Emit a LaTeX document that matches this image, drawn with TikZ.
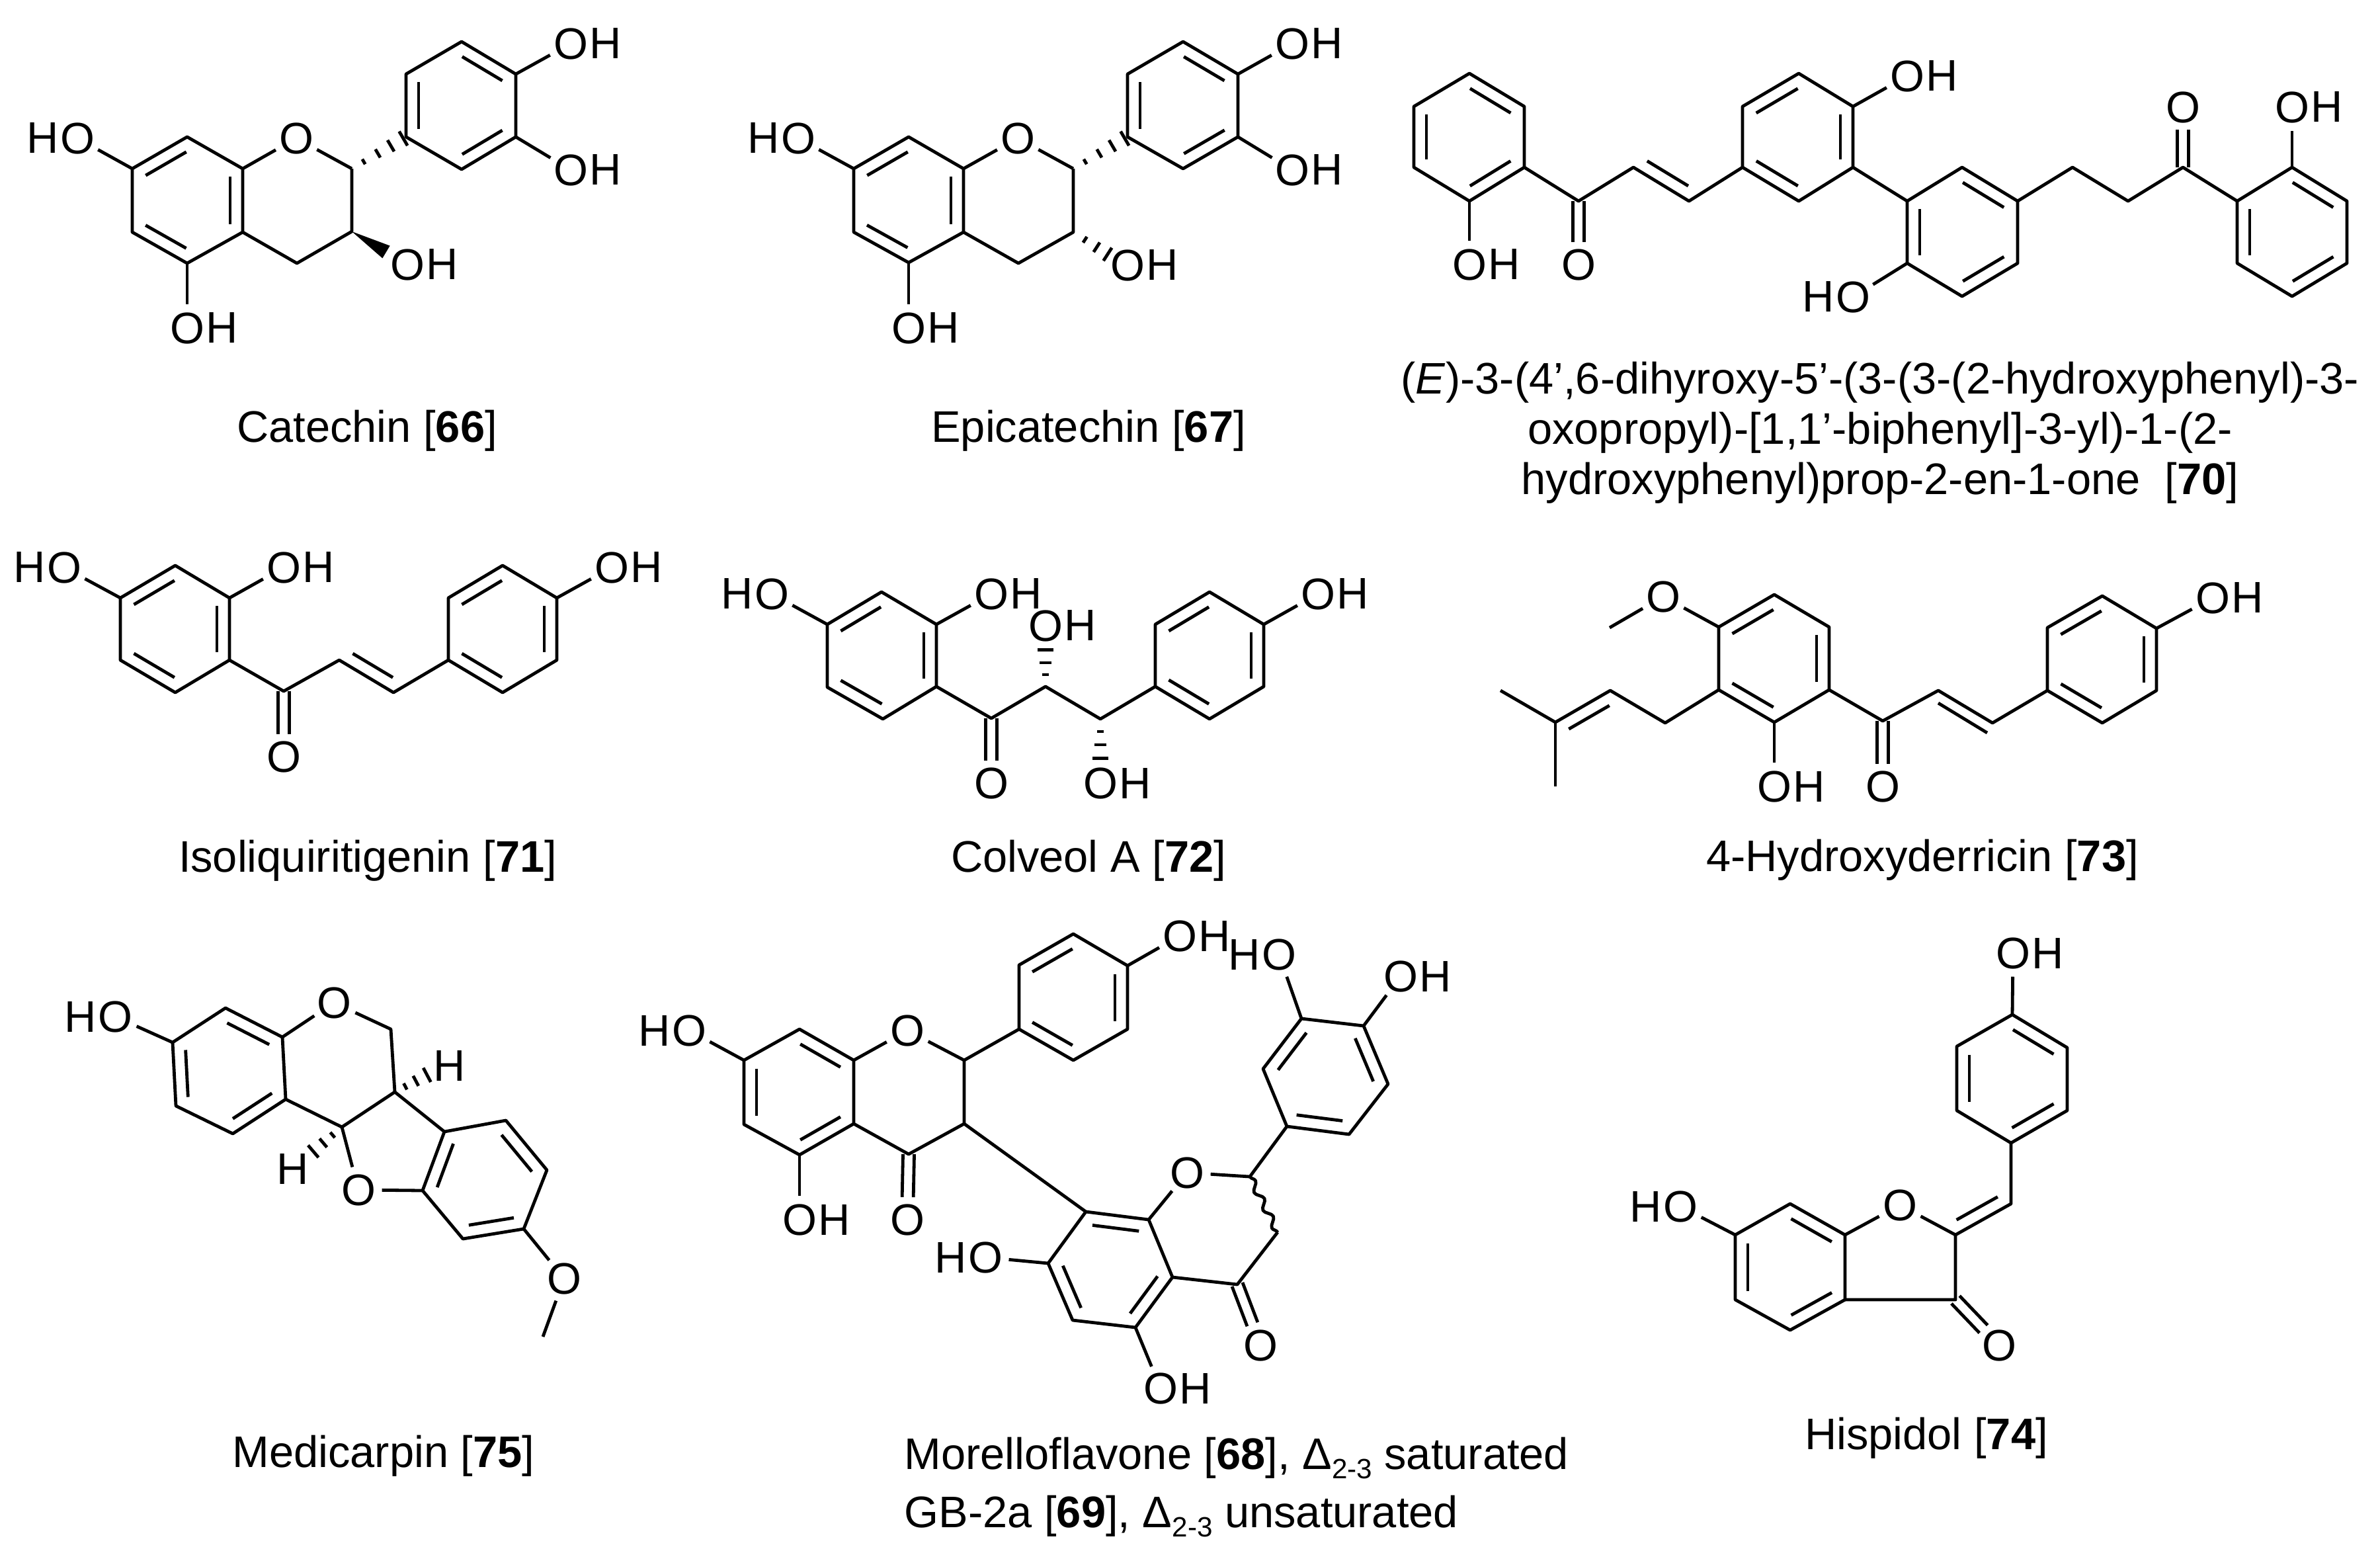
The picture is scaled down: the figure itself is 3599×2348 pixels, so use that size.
\documentclass[tikz,border=0pt]{standalone}
\usepackage{fontspec}
\setmainfont{Liberation Sans}
\usetikzlibrary{calc,positioning,decorations.pathmorphing}

\newcommand{\chemfont}{\fontsize{19}{21.6}\selectfont}
\tikzset{
    bond/.style={line width=.048cm,line join=round},
    atom/.style={circle,inner sep=0pt,minimum size=.68cm,font=\chemfont},
    atomh/.style={inner sep=0pt,font=\chemfont},
    caption/.style={inner sep=0pt,font=\chemfont,anchor=base}
}
% atom positions, given in pixels of the page
\newcommand{\atoms}[1]{\foreach \n/\x/\y in {#1} \coordinate (\n) at (\x,\y);}
\newcommand{\ogroup}[2]{\node[atom] (#1) at (#2) {O};}
\newcommand{\ohgroup}[2]{\node[atom] (#1) at (#2) {O}; \node[atomh,right=-.08cm of #1] (#1h) {H};}
\newcommand{\hogroup}[2]{\node[atom] (#1) at (#2) {O}; \node[atomh,left=-.08cm of #1] (#1h) {H};}
% inner line of a double bond, on the left of the walk a/b
\newcommand{\dbl}[1]{\foreach \a/\b in {#1} \draw[bond] ($(\a)!.13!(\b)!.19cm!90:(\b)$) -- ($(\b)!.13!(\a)!.19cm!-90:(\a)$);}
% C=O, two lines round the axis
\newcommand{\carbonyl}[2]{
    \draw[bond,shorten >=.34cm] ($(#1)!.085cm!90:(#2)$) -- ($(#2)!.085cm!-90:(#1)$);
    \draw[bond,shorten >=.34cm] ($(#1)!.085cm!-90:(#2)$) -- ($(#2)!.085cm!90:(#1)$);
}
\newcommand{\hashbond}[3]{\foreach \t [evaluate=\t as \w using 0.02+0.11*\t] in {#3}
    \draw[bond] ($(#1)!\t!(#2)!\w cm!90:(#2)$) -- ($(#1)!\t!(#2)!\w cm!-90:(#2)$);}
\newcommand{\wedgebond}[2]{\fill (#1) -- ($(#2)!.11cm!90:(#1)$) -- ($(#2)!.11cm!-90:(#1)$) -- cycle;}
\newcommand{\deltasub}{Δ\raisebox{-4.2pt}{\fontsize{12}{12}\selectfont 2-3}}

\begin{document}
\begin{tikzpicture}[x=.01cm,y=-.01cm]
\useasboundingbox (0,0) rectangle (3599,2348);

% === Catechin ===
\begin{scope}
    \atoms{caa1/283/207,caa2/367/255,caa3/367/351,caa4/283/398,caa5/200/351,caa6/200/255,
           cac2/532/255,cac3/532/350,cac4/449/398,
           cab1/614/207,cab2/614/112,cab3/698/63,cab4/780/112,cab5/780/207,cab6/698/256,
           cawe/584/381}
    \ogroup{caO}{448,209}
    \hogroup{caho}{117,209}
    \ohgroup{caoh1}{283,496}
    \ohgroup{caoh2}{616,400}
    \ohgroup{caoh3}{863,66}
    \ohgroup{caoh4}{863,257}
    \draw[bond] (caa1) -- (caa2) -- (caa3) -- (caa4) -- (caa5) -- (caa6) -- cycle;
    \draw[bond] (caa3) -- (cac4) -- (cac3) -- (cac2);
    \draw[bond] (caa2) -- (caO) -- (cac2);
    \draw[bond] (cab1) -- (cab2) -- (cab3) -- (cab4) -- (cab5) -- (cab6) -- cycle;
    \draw[bond] (caa6) -- (caho);
    \draw[bond] (caa4) -- (caoh1);
    \draw[bond] (cab4) -- (caoh3);
    \draw[bond] (cab5) -- (caoh4);
    \dbl{caa1/caa6,caa5/caa4,caa3/caa2,cab4/cab3,cab2/cab1,cab6/cab5}
    \hashbond{cac2}{cab1}{.22,.48,.72,.95}
    \wedgebond{cac3}{cawe}
    \node[caption] (cacap) at (555,668) {Catechin [\textbf{66}]};
\end{scope}

% === Epicatechin ===
\begin{scope}
    \atoms{eca1/1374/207,eca2/1457/255,eca3/1457/351,eca4/1374/397,eca5/1291/351,eca6/1291/255,
           ecc2/1623/255,ecc3/1623/351,ecc4/1540/398,
           ecb1/1705/207,ecb2/1705/112,ecb3/1789/63,ecb4/1872/112,ecb5/1872/207,ecb6/1789/255,
           echa/1682/389}
    \ogroup{ecO}{1539,209}
    \hogroup{echo}{1207,209}
    \ohgroup{ecoh1}{1374,496}
    \ohgroup{ecoh2}{1705,401}
    \ohgroup{ecoh3}{1954,66}
    \ohgroup{ecoh4}{1954,257}
    \draw[bond] (eca1) -- (eca2) -- (eca3) -- (eca4) -- (eca5) -- (eca6) -- cycle;
    \draw[bond] (eca3) -- (ecc4) -- (ecc3) -- (ecc2);
    \draw[bond] (eca2) -- (ecO) -- (ecc2);
    \draw[bond] (ecb1) -- (ecb2) -- (ecb3) -- (ecb4) -- (ecb5) -- (ecb6) -- cycle;
    \draw[bond] (eca6) -- (echo);
    \draw[bond] (eca4) -- (ecoh1);
    \draw[bond] (ecb4) -- (ecoh3);
    \draw[bond] (ecb5) -- (ecoh4);
    \dbl{eca1/eca6,eca5/eca4,eca3/eca2,ecb4/ecb3,ecb2/ecb1,ecb6/ecb5}
    \hashbond{ecc2}{ecb1}{.22,.48,.72,.95}
    \hashbond{ecc3}{echa}{.3,.6,.88}
    \node[caption] (eccap) at (1646,668) {Epicatechin [\textbf{67}]};
\end{scope}

% === Biphenyl chalcone ===
\begin{scope}
    \atoms{bil1/2222/111,bil2/2305/161,bil3/2305/253,bil4/2222/304,bil5/2138/253,bil6/2138/161,
           bic1/2387/304,biv1/2470/253,biv2/2554/304,
           bim1/2635/253,bim2/2635/161,bim3/2720/111,bim4/2802/161,bim5/2802/253,bim6/2720/304,
           bir1/2884/304,bir2/2967/253,bir3/3051/304,bir4/3051/398,bir5/2967/448,bir6/2884/398,
           bis1/3134/253,bis2/3218/304,bic2/3301/253,
           bie1/3383/304,bie2/3466/253,bie3/3549/304,bie4/3549/398,bie5/3466/448,bie6/3383/398}
    \ohgroup{bioh1}{2222,400}
    \ogroup{biO1}{2387,400}
    \ohgroup{bioh2}{2884,115}
    \hogroup{biho}{2802,449}
    \ogroup{biO2}{3301,162}
    \ohgroup{bioh3}{3466,162}
    \draw[bond] (bil1) -- (bil2) -- (bil3) -- (bil4) -- (bil5) -- (bil6) -- cycle;
    \draw[bond] (bim1) -- (bim2) -- (bim3) -- (bim4) -- (bim5) -- (bim6) -- cycle;
    \draw[bond] (bir1) -- (bir2) -- (bir3) -- (bir4) -- (bir5) -- (bir6) -- cycle;
    \draw[bond] (bie1) -- (bie2) -- (bie3) -- (bie4) -- (bie5) -- (bie6) -- cycle;
    \draw[bond] (bil3) -- (bic1) -- (biv1) -- (biv2) -- (bim1);
    \draw[bond] (bim5) -- (bir1);
    \draw[bond] (bir3) -- (bis1) -- (bis2) -- (bic2) -- (bie1);
    \draw[bond] (bil4) -- (bioh1);
    \draw[bond] (bim4) -- (bioh2);
    \draw[bond] (bir6) -- (biho);
    \draw[bond] (bie2) -- (bioh3);
    \dbl{bil2/bil1,bil6/bil5,bil4/bil3,biv1/biv2,bim3/bim2,bim1/bim6,bim5/bim4,
         bir3/bir2,bir1/bir6,bir5/bir4,bie3/bie2,bie1/bie6,bie5/bie4}
    \carbonyl{bic1}{biO1}
    \carbonyl{bic2}{biO2}
    \node[inner sep=0pt,font=\chemfont,align=center] (bicap) at (2843,654)
        {(\textit{E})-3-(4’,6-dihyroxy-5’-(3-(3-(2-hydroxyphenyl)-3-\\
         oxopropyl)-[1,1’-biphenyl]-3-yl)-1-(2-\\
         hydroxyphenyl)prop-2-en-1-one \ [\textbf{70}]};
\end{scope}

% === Isoliquiritigenin ===
\begin{scope}
    \atoms{ila1/265/855,ila2/347/904,ila3/347/998,ila4/265/1047,ila5/182/998,ila6/182/904,
           ilc/429/1045,ilv1/513/998,ilv2/595/1047,
           ilb1/678/998,ilb2/678/904,ilb3/760/855,ilb4/842/904,ilb5/842/998,ilb6/760/1047}
    \hogroup{ilho}{97,858}
    \ohgroup{iloh1}{429,858}
    \ogroup{ilO}{429,1144}
    \ohgroup{iloh2}{925,858}
    \draw[bond] (ila1) -- (ila2) -- (ila3) -- (ila4) -- (ila5) -- (ila6) -- cycle;
    \draw[bond] (ilb1) -- (ilb2) -- (ilb3) -- (ilb4) -- (ilb5) -- (ilb6) -- cycle;
    \draw[bond] (ila3) -- (ilc) -- (ilv1) -- (ilv2) -- (ilb1);
    \draw[bond] (ila6) -- (ilho);
    \draw[bond] (ila2) -- (iloh1);
    \draw[bond] (ilb4) -- (iloh2);
    \dbl{ila1/ila6,ila5/ila4,ila3/ila2,ilb3/ilb2,ilb1/ilb6,ilb5/ilb4,ilv1/ilv2}
    \carbonyl{ilc}{ilO}
    \node[caption] (ilcap) at (556,1318) {Isoliquiritigenin [\textbf{71}]};
\end{scope}

% === Colveol A ===
\begin{scope}
    \atoms{coa1/1333/895,coa2/1416/944,coa3/1416/1038,coa4/1335/1087,coa5/1251/1039,coa6/1251/944,
           coc/1499/1086,cos1/1581/1038,cos2/1664/1087,
           cob1/1747/1038,cob2/1747/944,cob3/1829/895,cob4/1911/944,cob5/1911/1038,cob6/1829/1087,
           coh1/1581/978,coh2/1664/1150}
    \hogroup{coho}{1167,898}
    \ohgroup{cooh1}{1499,898}
    \ohgroup{cooh2}{1581,946}
    \ogroup{coO}{1499,1184}
    \ohgroup{cooh3}{1664,1184}
    \ohgroup{cooh4}{1993,898}
    \draw[bond] (coa1) -- (coa2) -- (coa3) -- (coa4) -- (coa5) -- (coa6) -- cycle;
    \draw[bond] (cob1) -- (cob2) -- (cob3) -- (cob4) -- (cob5) -- (cob6) -- cycle;
    \draw[bond] (coa3) -- (coc) -- (cos1) -- (cos2) -- (cob1);
    \draw[bond] (coa6) -- (coho);
    \draw[bond] (coa2) -- (cooh1);
    \draw[bond] (cob4) -- (cooh4);
    \dbl{coa1/coa6,coa5/coa4,coa3/coa2,cob3/cob2,cob1/cob6,cob5/cob4}
    \carbonyl{coc}{coO}
    \hashbond{cos1}{coh1}{.3,.6,.93}
    \hashbond{cos2}{coh2}{.3,.62,.95}
    \node[caption] (cocap) at (1646,1318) {Colveol A [\textbf{72}]};
\end{scope}

% === 4-Hydroxyderricin ===
\begin{scope}
    \atoms{hya1/2683/899,hya2/2766/948,hya3/2766/1043,hya4/2683/1092,hya5/2599/1043,hya6/2599/948,
           hyme/2434/949,hyp1/2518/1093,hyp2/2435/1044,hyp3/2352/1092,hyp4/2269/1044,hyp5/2352/1189,
           hyc/2847/1090,hyv1/2931/1044,hyv2/3013/1093,hyi1/2931/1063,hyi2/3005/1108,
           hyb1/3096/1044,hyb2/3096/949,hyb3/3179/901,hyb4/3261/950,hyb5/3261/1044,hyb6/3179/1093}
    \ogroup{hyO1}{2515,902}
    \ohgroup{hyoh1}{2683,1189}
    \ogroup{hyO2}{2847,1189}
    \ohgroup{hyoh2}{3346,904}
    \draw[bond] (hya1) -- (hya2) -- (hya3) -- (hya4) -- (hya5) -- (hya6) -- cycle;
    \draw[bond] (hyb1) -- (hyb2) -- (hyb3) -- (hyb4) -- (hyb5) -- (hyb6) -- cycle;
    \draw[bond] (hya5) -- (hyp1) -- (hyp2) -- (hyp3) -- (hyp4);
    \draw[bond] (hyp3) -- (hyp5);
    \draw[bond] (hya3) -- (hyc) -- (hyv1) -- (hyv2) -- (hyb1);
    \draw[bond] (hya6) -- (hyO1) -- (hyme);
    \draw[bond] (hya4) -- (hyoh1);
    \draw[bond] (hyb4) -- (hyoh2);
    \draw[bond] (hyi1) -- (hyi2);
    \dbl{hya1/hya6,hya5/hya4,hya3/hya2,hyb3/hyb2,hyb1/hyb6,hyb5/hyb4,hyp2/hyp3}
    \carbonyl{hyc}{hyO2}
    \node[caption] (hycap) at (2907,1317) {4-Hydroxyderricin [\textbf{73}]};
\end{scope}

% === Medicarpin ===
\begin{scope}
    \atoms{mea1/341/1524,mea2/427/1568,mea3/432/1662,mea4/352/1714,mea5/266/1672,mea6/261/1576,
           mec1/591/1556,mec2/597/1651,mec3/517/1704,
           med1/672/1711,med2/765/1694,med3/827/1769,med4/792/1858,med5/700/1873,med6/639/1800,
           meme/821/2021,meh1/650/1623,meh2/470/1744}
    \hogroup{meho}{174,1537}
    \ogroup{meO1}{505,1516}
    \ogroup{meO2}{542,1799}
    \ogroup{meO3}{853,1933}
    \node[atomh] (meh3) at (680,1611) {H};
    \node[atomh] (meh4) at (443,1767) {H};
    \draw[bond] (mea1) -- (mea2) -- (mea3) -- (mea4) -- (mea5) -- (mea6) -- cycle;
    \draw[bond] (med1) -- (med2) -- (med3) -- (med4) -- (med5) -- (med6) -- cycle;
    \draw[bond] (mea2) -- (meO1) -- (mec1) -- (mec2) -- (mec3) -- (mea3);
    \draw[bond] (mec2) -- (med1);
    \draw[bond] (mec3) -- (meO2) -- (med6);
    \draw[bond] (mea6) -- (meho);
    \draw[bond] (med4) -- (meO3) -- (meme);
    \dbl{mea2/mea1,mea6/mea5,mea4/mea3,med1/med6,med3/med2,med5/med4}
    \hashbond{mec2}{meh1}{.3,.6,.92}
    \hashbond{mec3}{meh2}{.3,.6,.92}
    \node[caption] (mecap) at (580,2218) {Medicarpin [\textbf{75}]};
\end{scope}

% === Morelloflavone ===
\begin{scope}
    \atoms{moa1/1209/1556,moa2/1291/1603,moa3/1291/1699,moa4/1209/1746,moa5/1125/1700,moa6/1125/1603,
           moc2/1458/1603,moc3/1458/1699,moc4/1374/1745,
           mob1/1541/1556,mob2/1541/1459,mob3/1623/1412,mob4/1705/1460,mob5/1705/1556,mob6/1623/1603,
           mod1/1642/1832,mod2/1737/1844,mod3/1773/1931,mod4/1717/2007,mod5/1622/1996,mod6/1585/1910,
           moe1/1890/1779,moe2/1932/1863,moe3/1871/1942,
           mof1/1946/1703,mof2/1910/1616,mof3/1968/1540,mof4/2062/1551,mof5/2099/1639,mof6/2040/1715}
    \hogroup{moho1}{1042,1558}
    \ohgroup{mooh1}{1209,1844}
    \ogroup{moO1}{1372,1558}
    \ogroup{moO2}{1372,1844}
    \ohgroup{mooh2}{1784,1415}
    \ogroup{moO3}{1795,1773}
    \hogroup{moho2}{1490,1901}
    \ohgroup{mooh3}{1755,2099}
    \ogroup{moO4}{1906,2034}
    \hogroup{moho3}{1934,1443}
    \ohgroup{mooh4}{2118,1476}
    \draw[bond] (moa1) -- (moa2) -- (moa3) -- (moa4) -- (moa5) -- (moa6) -- cycle;
    \draw[bond] (mob1) -- (mob2) -- (mob3) -- (mob4) -- (mob5) -- (mob6) -- cycle;
    \draw[bond] (mod1) -- (mod2) -- (mod3) -- (mod4) -- (mod5) -- (mod6) -- cycle;
    \draw[bond] (mof1) -- (mof2) -- (mof3) -- (mof4) -- (mof5) -- (mof6) -- cycle;
    \draw[bond] (moa2) -- (moO1) -- (moc2) -- (moc3) -- (moc4) -- (moa3);
    \draw[bond] (moc2) -- (mob1);
    \draw[bond] (moc3) -- (mod1);
    \draw[bond] (mod2) -- (moO3) -- (moe1) -- (mof1);
    \draw[bond] (mod3) -- (moe3) -- (moe2);
    \draw[bond,decorate,decoration={snake,amplitude=.05cm,segment length=.3cm}] (moe1) -- (moe2);
    \draw[bond] (moa6) -- (moho1);
    \draw[bond] (moa4) -- (mooh1);
    \draw[bond] (mob4) -- (mooh2);
    \draw[bond] (mod6) -- (moho2);
    \draw[bond] (mod4) -- (mooh3);
    \draw[bond] (mof3) -- (moho3);
    \draw[bond] (mof4) -- (mooh4);
    \dbl{moa2/moa1,moa6/moa5,moa4/moa3,mob3/mob2,mob5/mob4,mob1/mob6,
         mod2/mod1,mod6/mod5,mod4/mod3,mof3/mof2,mof5/mof4,mof1/mof6}
    \carbonyl{moc4}{moO2}
    \carbonyl{moe3}{moO4}
    \node[caption,anchor=base west] (mocap1) at (1367,2221) {Morelloflavone [\textbf{68}], \deltasub{} saturated};
    \node[caption,anchor=base west] (mocap2) at (1367,2309) {GB-2a [\textbf{69}], \deltasub{} unsaturated};
\end{scope}

% === Hispidol ===
\begin{scope}
    \atoms{hia1/2707/1820,hia2/2790/1867,hia3/2790/1965,hia4/2707/2011,hia5/2624/1965,hia6/2624/1867,
           hic1/2957/1867,hic2/2957/1965,hiv/3041/1820,
           hib1/3041/1728,hib2/2959/1679,hib3/2959/1582,hib4/3043/1534,hib5/3126/1584,hib6/3126/1679}
    \hogroup{hiho}{2541,1824}
    \ogroup{hiO1}{2873,1822}
    \ogroup{hiO2}{3023,2034}
    \ohgroup{hioh}{3044,1441}
    \draw[bond] (hia1) -- (hia2) -- (hia3) -- (hia4) -- (hia5) -- (hia6) -- cycle;
    \draw[bond] (hib1) -- (hib2) -- (hib3) -- (hib4) -- (hib5) -- (hib6) -- cycle;
    \draw[bond] (hia2) -- (hiO1) -- (hic1) -- (hic2) -- (hia3);
    \draw[bond] (hic1) -- (hiv) -- (hib1);
    \draw[bond] (hia6) -- (hiho);
    \draw[bond] (hib4) -- (hioh);
    \dbl{hia2/hia1,hia6/hia5,hia4/hia3,hic1/hiv,hib3/hib2,hib5/hib4,hib1/hib6}
    \carbonyl{hic2}{hiO2}
    \node[caption] (hicap) at (2913,2191) {Hispidol [\textbf{74}]};
\end{scope}

\end{tikzpicture}
\end{document}
